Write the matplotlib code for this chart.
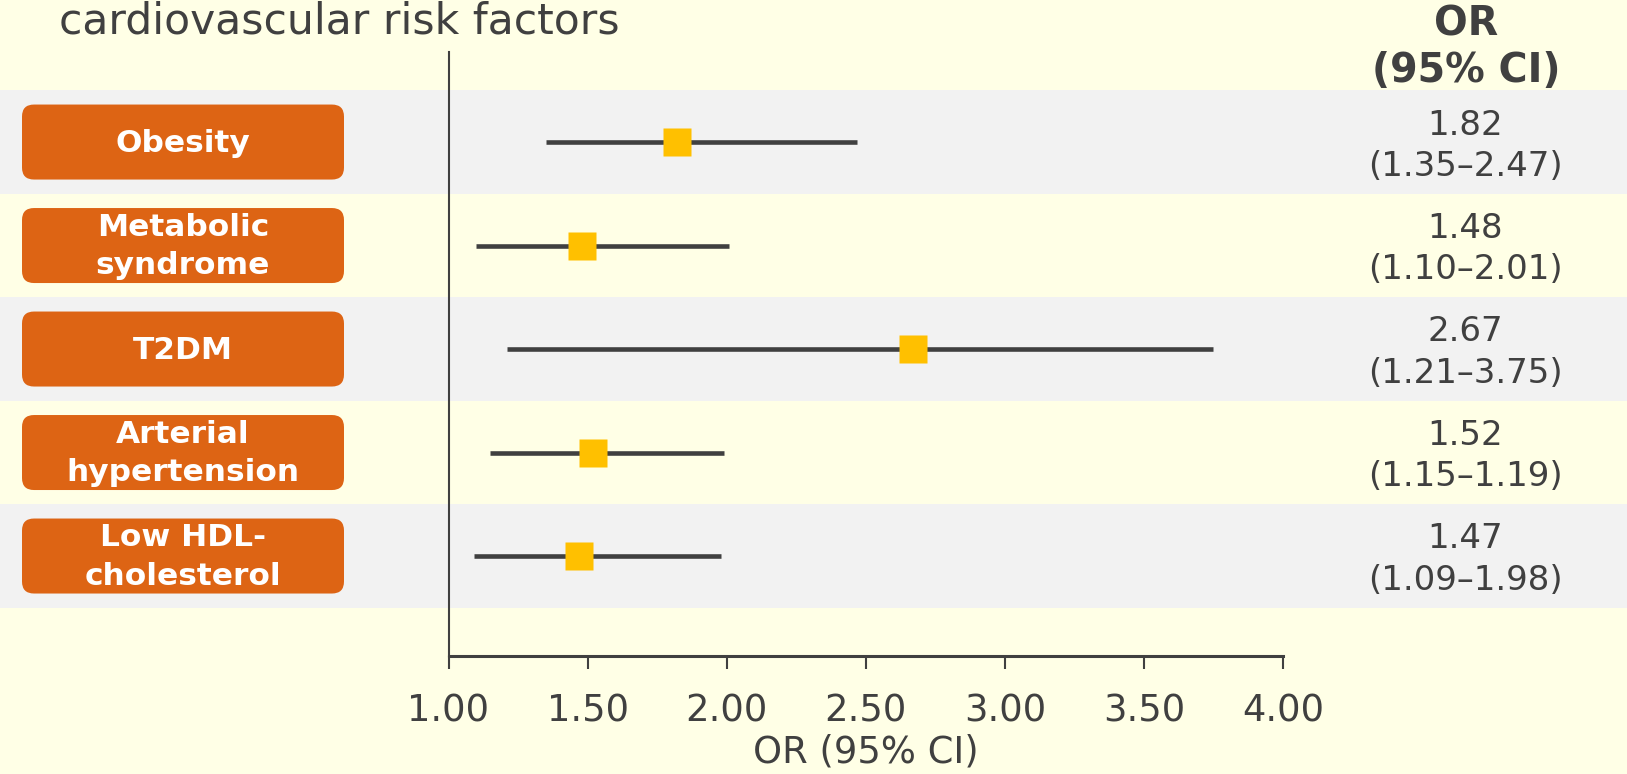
import numpy as np
import matplotlib
matplotlib.use('Agg')
import matplotlib.pyplot as plt
from matplotlib.patches import Rectangle, FancyBboxPatch
from matplotlib.transforms import blended_transform_factory

# data
factors = ['Obesity', 'Metabolic\nsyndrome', 'T2DM', 'Arterial\nhypertension', 'Low HDL-\ncholesterol']
odds = [1.82, 1.48, 2.67, 1.52, 1.47]
ci_low = [1.35, 1.10, 1.21, 1.15, 1.09]
ci_high = [2.47, 2.01, 3.75, 1.99, 1.98]
ci_text = ['1.35\u20132.47', '1.10\u20132.01', '1.21\u20133.75', '1.15\u20131.19', '1.09\u20131.98']
xticks = [1.0, 1.5, 2.0, 2.5, 3.0, 3.5, 4.0]

dark = '#404040'
orange = '#DD6414'
yellow = '#FFC000'
band = '#F2F2F2'
bg = '#FFFFE6'

W, H = 1627, 774
fig = plt.figure(figsize=(W/100, H/100), dpi=100, facecolor=bg)
plt.rcParams['font.family'] = ['DejaVu Sans']

ax = fig.add_axes([448.5/W, 1-656/H, (1283-448.5)/W, (656-52)/H])
ax.patch.set_visible(False)
n = len(factors)
ax.set_xlim(1, 4)
ax.set_ylim(4.966, -0.87)

fig_x = blended_transform_factory(fig.transFigure, ax.transData)

# alternating row bands
for i in range(n):
    if i % 2 == 0:
        ax.add_patch(Rectangle((0, i-0.5), 1, 1, transform=fig_x, facecolor=band,
                               edgecolor='none', clip_on=False, zorder=0))

y = np.arange(n)
ax.hlines(y, ci_low, ci_high, color=dark, lw=3.3, zorder=2)
ax.plot(odds, y, 's', ms=19.5, color=yellow, mec='none', zorder=3)

# orange label boxes (in inches so the corners stay round)
for i, name in enumerate(factors):
    yc = ax.transData.transform((1, i))[1] / fig.dpi
    box = FancyBboxPatch((0.22, yc-0.375), 3.22, 0.75,
                         boxstyle='round,pad=0,rounding_size=0.12',
                         transform=fig.dpi_scale_trans, facecolor=orange,
                         edgecolor='none', clip_on=False, zorder=1)
    ax.add_patch(box)
    ax.text(183/W, i + 0.01, name, transform=fig_x, ha='center', va='center',
            color='white', fontsize=22.5, fontweight='bold', linespacing=1.4, zorder=4)
    ax.text(1465/W, i + 0.035, '%.2f\n(%s)' % (odds[i], ci_text[i]), transform=fig_x,
            ha='center', va='center', color=dark, fontsize=24.5, linespacing=1.32)

fig.text(1466/W, 1-48/H, 'OR\n(95% CI)', ha='center', va='center', color=dark,
         fontsize=28.5, fontweight='bold', linespacing=1.2)
fig.text(59/W, 1-33/H, 'cardiovascular risk factors', ha='left', va='baseline',
         color=dark, fontsize=30.6)

for s in ['top', 'right']:
    ax.spines[s].set_visible(False)
ax.spines['left'].set_color(dark)
ax.spines['left'].set_linewidth(1.5)
ax.spines['bottom'].set_color(dark)
ax.spines['bottom'].set_linewidth(2.2)
ax.set_yticks([])
ax.set_xticks(xticks)
ax.set_xticklabels(['%.2f' % t for t in xticks])
ax.tick_params(axis='x', length=9, width=1.5, color=dark, labelcolor=dark,
               labelsize=26.6, pad=17)
ax.set_xlabel('OR (95% CI)', fontsize=26.6, color=dark, labelpad=3)

fig.savefig('out.png', dpi=100, facecolor=bg)
